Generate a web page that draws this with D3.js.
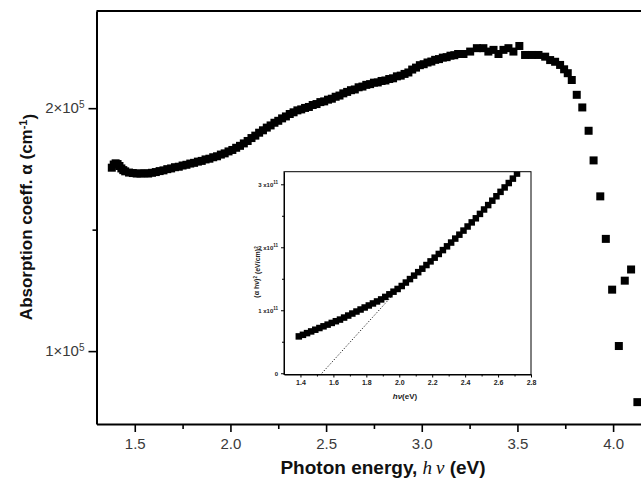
<!DOCTYPE html>
<html>
<head>
<meta charset="utf-8">
<script src="https://cdn.jsdelivr.net/npm/d3@7/dist/d3.min.js"></script>
<style>
  body { margin: 0; background: #fff; }
  svg { display: block; }
  text { font-family: "Liberation Sans", Arial, sans-serif; }
</style>
</head>
<body>
<script>
(function (d3) {
  "use strict";

  /***** Data (main: alpha in 1e5 cm^-1, inset: (alpha h nu)^2 in 1e11) *****/
  var energy = [1.38, 1.39, 1.40, 1.41, 1.42, 1.43, 1.44, 1.45, 1.47, 1.49, 1.51, 1.53, 1.55, 1.57, 1.59,
    1.61, 1.63, 1.65, 1.67, 1.69, 1.71, 1.73, 1.75, 1.77, 1.79, 1.81, 1.83, 1.85, 1.87, 1.89,
    1.91, 1.93, 1.95, 1.97, 1.99, 2.01, 2.03, 2.05, 2.07, 2.09, 2.11, 2.13, 2.15, 2.17, 2.19,
    2.21, 2.23, 2.25, 2.27, 2.29, 2.31, 2.33, 2.35, 2.37, 2.39, 2.41, 2.43, 2.45, 2.47, 2.49,
    2.51, 2.53, 2.55, 2.57, 2.59, 2.61, 2.63, 2.65, 2.67, 2.69, 2.71, 2.73, 2.75, 2.77, 2.79,
    2.81, 2.83, 2.85, 2.87, 2.89, 2.91, 2.93, 2.95, 2.97, 2.99, 3.01, 3.03, 3.05, 3.07, 3.09,
    3.11, 3.13, 3.15, 3.17, 3.19, 3.218, 3.253, 3.288, 3.322, 3.348, 3.375, 3.401, 3.427, 3.453,
    3.479, 3.51, 3.54, 3.575, 3.61, 3.645, 3.671, 3.697, 3.723, 3.744, 3.763, 3.784,
    3.81, 3.839, 3.872, 3.898, 3.933, 3.962, 3.995, 4.03, 4.061, 4.094, 4.127];
  var alpha = [1.755, 1.768, 1.773, 1.770, 1.762, 1.752, 1.745, 1.740, 1.735, 1.733, 1.731, 1.731, 1.732, 1.731, 1.734,
    1.737, 1.741, 1.744, 1.749, 1.752, 1.757, 1.759, 1.764, 1.767, 1.772, 1.775, 1.780, 1.783, 1.789, 1.792,
    1.798, 1.802, 1.809, 1.814, 1.822, 1.828, 1.837, 1.845, 1.855, 1.865, 1.877, 1.887, 1.899, 1.909, 1.920,
    1.929, 1.940, 1.948, 1.958, 1.966, 1.976, 1.983, 1.991, 1.995, 2.001, 2.005, 2.013, 2.017, 2.025, 2.028,
    2.035, 2.039, 2.047, 2.052, 2.061, 2.067, 2.074, 2.077, 2.086, 2.089, 2.096, 2.099, 2.105, 2.106, 2.112,
    2.114, 2.120, 2.123, 2.131, 2.134, 2.141, 2.147, 2.159, 2.167, 2.177, 2.181, 2.188, 2.192, 2.199, 2.202,
    2.208, 2.210, 2.216, 2.218, 2.223, 2.223, 2.233, 2.247, 2.247, 2.233, 2.240, 2.223, 2.240, 2.247,
    2.233, 2.256, 2.219, 2.219, 2.219, 2.212, 2.198, 2.191, 2.178, 2.160, 2.144, 2.116,
    2.055, 2.003, 1.907, 1.785, 1.637, 1.462, 1.253, 1.021, 1.290, 1.336, 0.790];

  var insetEnergy = [1.39, 1.415, 1.44, 1.465, 1.49, 1.515, 1.54, 1.565, 1.59, 1.615, 1.64, 1.665, 1.69, 1.715,
    1.74, 1.765, 1.79, 1.815, 1.84, 1.865, 1.89, 1.915, 1.94, 1.965, 1.99, 2.015, 2.04, 2.065, 2.09,
    2.115, 2.14, 2.165, 2.19, 2.215, 2.24, 2.265, 2.29, 2.315, 2.34, 2.365, 2.39, 2.415, 2.44, 2.465,
    2.49, 2.515, 2.54, 2.565, 2.59, 2.615, 2.64, 2.665, 2.69, 2.715];
  var insetValue = [0.585, 0.61, 0.637, 0.664, 0.691, 0.718, 0.745, 0.772, 0.799, 0.826, 0.852, 0.884, 0.916, 0.948,
    0.98, 1.012, 1.044, 1.076, 1.108, 1.14, 1.172, 1.212, 1.253, 1.295, 1.338, 1.385, 1.44, 1.495, 1.55,
    1.605, 1.66, 1.718, 1.776, 1.835, 1.894, 1.955, 2.015, 2.075, 2.138, 2.2, 2.265, 2.33, 2.395, 2.46,
    2.53, 2.6, 2.67, 2.74, 2.81, 2.88, 2.95, 3.02, 3.09, 3.17];
  var tangentEnergy = [1.53, 1.96];
  var tangentValue = [0, 1.24];

  var xTicks = [1.5, 2.0, 2.5, 3.0, 3.5, 4.0];
  var xMinorTicks = [1.75, 2.25, 2.75, 3.25, 3.75, 4.25];
  var yTicks = [1, 2];
  var yMinorTicks = [1.5];
  var insetXTicks = [1.4, 1.6, 1.8, 2.0, 2.2, 2.4, 2.6, 2.8];
  var insetXMinorTicks = [1.5, 1.7, 1.9, 2.1, 2.3, 2.5, 2.7];
  var insetYTicks = [0, 1, 2, 3];
  var insetYMinorTicks = [0.5, 1.5, 2.5];

  /***** Configuration *****/
  var width = 641, height = 481;
  var chartMargin = { top: 11, left: 96.5 };
  var chartWidth = 574, chartHeight = 413;
  var inset = { left: 284, top: 171.7, width: 247, height: 202.8 };

  var svg = d3.select("body").append("svg")
      .attr("width", width)
      .attr("height", height);

  /***** Scales *****/
  var xScale = d3.scaleLinear().domain([1.3, 4.3]).range([0, chartWidth]);
  var yScale = d3.scaleLinear().domain([0.70, 2.40]).range([chartHeight, 0]);
  var xInset = d3.scaleLinear().domain([1.3, 2.8]).range([0, inset.width]);
  var yInset = d3.scaleLinear().domain([-0.02, 3.2]).range([inset.height, 0]);

  function supText(sel, base, exp, supSize) {
    sel.text(null);
    sel.append("tspan").text(base);
    sel.append("tspan").attr("dy", "-0.5em").attr("font-size", supSize).text(exp);
  }

  /***** Main chart *****/
  var g = svg.append("g")
      .attr("transform", "translate(" + chartMargin.left + "," + chartMargin.top + ")");

  var xAxisG = g.append("g")
      .attr("transform", "translate(0," + chartHeight + ")")
      .call(d3.axisBottom(xScale).tickValues(xTicks).tickSize(8).tickPadding(6).tickSizeOuter(0)
        .tickFormat(d3.format(".1f")));
  g.append("g")
      .attr("transform", "translate(0," + chartHeight + ")")
      .call(d3.axisBottom(xScale).tickValues(xMinorTicks).tickSize(5).tickSizeOuter(0).tickFormat(""))
      .select(".domain").remove();

  var yAxisG = g.append("g")
      .call(d3.axisLeft(yScale).tickValues(yTicks).tickSize(8).tickPadding(4).tickSizeOuter(0));
  g.append("g")
      .call(d3.axisLeft(yScale).tickValues(yMinorTicks).tickSize(4).tickSizeOuter(0).tickFormat(""))
      .select(".domain").remove();

  g.append("line")
      .attr("x1", 0).attr("x2", chartWidth)
      .attr("y1", 0).attr("y2", 0)
      .attr("stroke", "#000").attr("stroke-width", 2);
  g.append("line")
      .attr("x1", chartWidth).attr("x2", chartWidth)
      .attr("y1", 0).attr("y2", chartHeight)
      .attr("stroke", "#000").attr("stroke-width", 2);

  g.selectAll(".domain").attr("stroke-width", 2);
  g.selectAll(".tick line").attr("stroke-width", 1.6);
  xAxisG.selectAll(".tick text").attr("font-size", 15).attr("fill", "#3a3a3a");
  yAxisG.selectAll(".tick text")
      .attr("font-size", 15).attr("fill", "#3a3a3a")
      .each(function (d) { supText(d3.select(this), d + "\u00d710", "5", 10); });

  var markerSize = 8;
  g.append("g").selectAll("rect")
      .data(energy)
      .join("rect")
      .attr("x", function (d) { return xScale(d) - markerSize / 2; })
      .attr("y", function (d, i) { return yScale(alpha[i]) - markerSize / 2; })
      .attr("width", markerSize)
      .attr("height", markerSize)
      .attr("fill", "#000");

  var yTitle = svg.append("text")
      .attr("transform", "translate(32,217) rotate(-90)")
      .attr("text-anchor", "middle")
      .attr("font-size", 17)
      .attr("font-weight", "bold")
      .attr("fill", "#111");
  yTitle.append("tspan").text("Absorption coeff. \u03b1 (cm");
  yTitle.append("tspan").attr("dy", "-0.5em").attr("font-size", 11).text("-1");
  yTitle.append("tspan").attr("dy", "0.5em").text(")");

  var xTitle = svg.append("text")
      .attr("x", 383).attr("y", 474)
      .attr("text-anchor", "middle")
      .attr("font-size", 19)
      .attr("font-weight", "bold")
      .attr("fill", "#111");
  xTitle.append("tspan").text("Photon energy, ");
  xTitle.append("tspan")
      .attr("font-family", "'Liberation Serif', serif")
      .attr("font-style", "italic")
      .attr("font-weight", "normal")
      .text("h\u2009\u03bd");
  xTitle.append("tspan").text(" (eV)");

  /***** Inset *****/
  var ig = svg.append("g")
      .attr("transform", "translate(" + inset.left + "," + inset.top + ")");

  ig.append("rect")
      .attr("width", inset.width).attr("height", inset.height)
      .attr("fill", "#fff").attr("stroke", "#000").attr("stroke-width", 1);

  var ixAxisG = ig.append("g")
      .attr("transform", "translate(0," + inset.height + ")")
      .call(d3.axisBottom(xInset).tickValues(insetXTicks).tickSize(3).tickPadding(3).tickSizeOuter(0)
        .tickFormat(d3.format(".1f")));
  ig.append("g")
      .attr("transform", "translate(0," + inset.height + ")")
      .call(d3.axisBottom(xInset).tickValues(insetXMinorTicks).tickSize(2).tickSizeOuter(0).tickFormat(""))
      .select(".domain").remove();
  var iyAxisG = ig.append("g")
      .call(d3.axisLeft(yInset).tickValues(insetYTicks).tickSize(3).tickPadding(3).tickSizeOuter(0));
  ig.append("g")
      .call(d3.axisLeft(yInset).tickValues(insetYMinorTicks).tickSize(2).tickSizeOuter(0).tickFormat(""))
      .select(".domain").remove();

  ig.selectAll(".domain").attr("stroke-width", 1);
  ixAxisG.selectAll(".tick text").attr("font-size", 7).attr("font-weight", "bold").attr("fill", "#222");
  iyAxisG.selectAll(".tick text")
      .attr("font-size", 6).attr("font-weight", "bold").attr("fill", "#222")
      .each(function (d) {
        if (d === 0) { d3.select(this).text("0"); }
        else { supText(d3.select(this), d + " x10", "11", 4.5); }
      });

  ig.append("path")
      .datum(tangentEnergy)
      .attr("fill", "none")
      .attr("stroke", "#000")
      .attr("stroke-width", 0.9)
      .attr("stroke-dasharray", "1.2,1.8")
      .attr("d", d3.line()
        .x(function (d) { return xInset(d); })
        .y(function (d, i) { return yInset(tangentValue[i]); }));

  ig.append("clipPath").attr("id", "insetClip")
      .append("rect").attr("width", inset.width).attr("height", inset.height);

  var insetMarker = 6.5;
  ig.append("g").attr("clip-path", "url(#insetClip)")
      .selectAll("rect")
      .data(insetEnergy)
      .join("rect")
      .attr("x", function (d) { return xInset(d) - insetMarker / 2; })
      .attr("y", function (d, i) { return yInset(insetValue[i]) - insetMarker / 2; })
      .attr("width", insetMarker)
      .attr("height", insetMarker)
      .attr("fill", "#000");

  var ixTitle = svg.append("text")
      .attr("x", 405).attr("y", 399)
      .attr("text-anchor", "middle")
      .attr("font-size", 8)
      .attr("font-weight", "bold")
      .attr("fill", "#222");
  ixTitle.append("tspan").attr("font-style", "italic").text("h\u03bd");
  ixTitle.append("tspan").text("(eV)");

  var iyTitle = svg.append("text")
      .attr("transform", "translate(259,272) rotate(-90)")
      .attr("text-anchor", "middle")
      .attr("font-size", 7)
      .attr("font-weight", "bold")
      .attr("fill", "#222");
  iyTitle.append("tspan").text("(\u03b1 h\u03bd)");
  iyTitle.append("tspan").attr("dy", "-0.5em").attr("font-size", 4.5).text("2");
  iyTitle.append("tspan").attr("dy", "0.5em").text(" (eV/cm)");
  iyTitle.append("tspan").attr("dy", "-0.5em").attr("font-size", 4.5).text("2");

})(d3);
</script>
</body>
</html>
